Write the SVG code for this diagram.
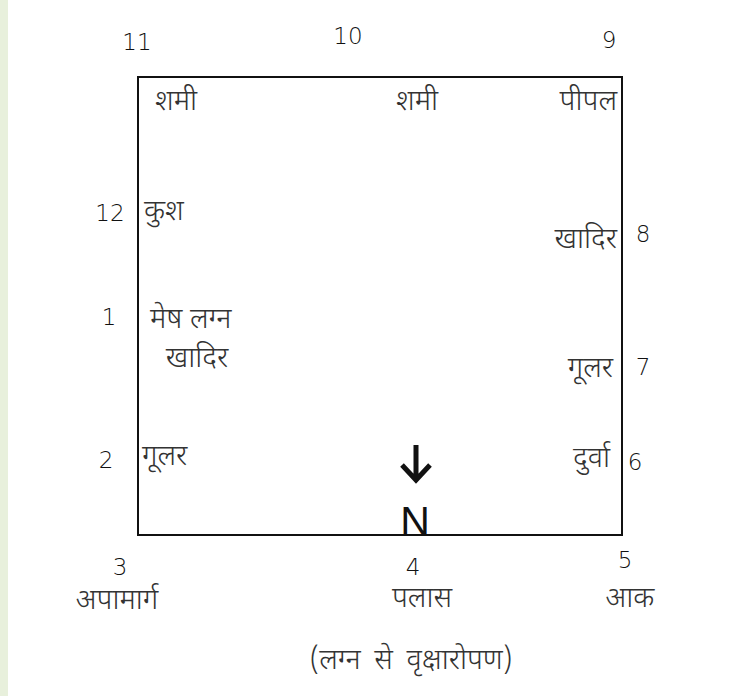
<svg xmlns="http://www.w3.org/2000/svg" width="740" height="696" viewBox="0 0 740 696">
<style>
.num{font-family:"DejaVu Sans","Liberation Sans",sans-serif;font-size:23px;fill:#111;font-weight:200}
.hi{font-family:"Noto Sans Devanagari","Lohit Devanagari","Noto Sans",sans-serif;font-size:29px;fill:#333;font-weight:300}
.box{fill:none;stroke:#111;stroke-width:2}
</style>
<rect x="0" y="0" width="740" height="696" fill="#ffffff"/>
<rect x="0" y="0" width="8" height="696" fill="#e8f0dc"/>
<g id="connectors">
<rect class="box" x="138" y="77" width="484" height="458"/>
</g>
<g id="house-11"><text class="num" x="137" y="50" text-anchor="middle">11</text><text class="hi" x="155" y="110">शमी</text></g>
<g id="house-10"><text class="num" x="348" y="44" text-anchor="middle">10</text><text class="hi" x="417" y="110" text-anchor="middle">शमी</text></g>
<g id="house-9"><text class="num" x="609" y="48" text-anchor="middle">9</text><text class="hi" x="617" y="110" text-anchor="end">पीपल</text></g>
<g id="house-12"><text class="num" x="110" y="221" text-anchor="middle">12</text><text class="hi" x="144" y="220">कुश</text></g>
<g id="house-8"><text class="num" x="643" y="242" text-anchor="middle">8</text><text class="hi" x="617" y="248" text-anchor="end">खादिर</text></g>
<g id="house-1"><text class="num" x="109" y="325" text-anchor="middle">1</text><text class="hi" x="150" y="328">मेष लग्न</text><text class="hi" x="197" y="367" text-anchor="middle">खादिर</text></g>
<g id="house-7"><text class="num" x="643" y="375" text-anchor="middle">7</text><text class="hi" x="613" y="377" text-anchor="end">गूलर</text></g>
<g id="house-2"><text class="num" x="106" y="468" text-anchor="middle">2</text><text class="hi" x="142" y="465">गूलर</text></g>
<g id="house-6"><text class="num" x="635" y="470" text-anchor="middle">6</text><text class="hi" x="610" y="467" text-anchor="end">दुर्वा</text></g>
<g id="north">
<path d="M416 445 V479 M402 465 L416 480 L430 465" fill="none" stroke="#111" stroke-width="5"/>
<text x="415" y="535" text-anchor="middle" font-family="Liberation Sans,Arial,sans-serif" font-size="41" fill="#111">N</text>
</g>
<g id="house-3"><text class="num" x="120" y="575" text-anchor="middle">3</text><text class="hi" x="117" y="609" text-anchor="middle">अपामार्ग</text></g>
<g id="house-4"><text class="num" x="413" y="575" text-anchor="middle">4</text><text class="hi" x="422" y="607" text-anchor="middle">पलास</text></g>
<g id="house-5"><text class="num" x="625" y="568" text-anchor="middle">5</text><text class="hi" x="630" y="607" text-anchor="middle">आक</text></g>
<g id="caption"><text class="hi" x="411" y="669" text-anchor="middle" word-spacing="6">(लग्न से वृक्षारोपण)</text></g>
</svg>
